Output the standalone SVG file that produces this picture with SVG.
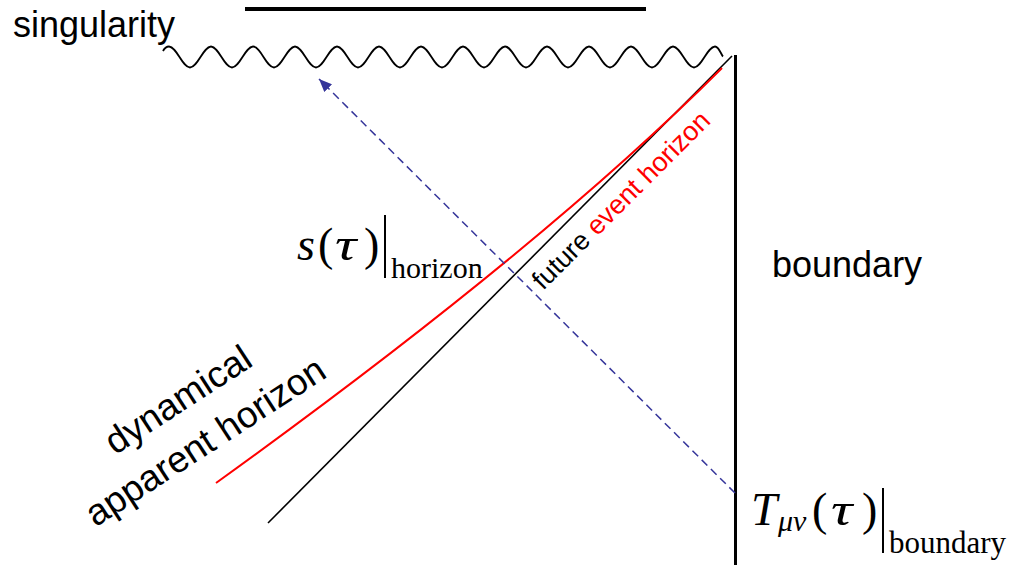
<svg xmlns="http://www.w3.org/2000/svg" width="1011" height="565" viewBox="0 0 1011 565">
<style>
.sans{font-family:"Liberation Sans",Arial,sans-serif;fill:#000}
.serif{font-family:"Liberation Serif","Times New Roman",serif;fill:#000}
.it{font-style:italic}
.red{fill:#ff0000}
</style>
<defs>
<marker id="arr" markerUnits="userSpaceOnUse" markerWidth="14" markerHeight="11" refX="13" refY="5.5" orient="auto">
<path d="M0,0 L13,5.5 L0,11 z" fill="#35359a" stroke="none"/>
</marker>
</defs>
<rect width="1011" height="565" fill="#fff"/>
<g id="connectors" fill="none">
<line x1="245" y1="9" x2="646" y2="9" stroke="#000" stroke-width="4"/>
<path d="M163,51 Q165.5,46.5 169,46.5 C176.65,46.5 182.35,67.5 190,67.5 s13.35,-21 21,-21 s13.35,21 21,21 s13.35,-21 21,-21 s13.35,21 21,21 s13.35,-21 21,-21 s13.35,21 21,21 s13.35,-21 21,-21 s13.35,21 21,21 s13.35,-21 21,-21 s13.35,21 21,21 s13.35,-21 21,-21 s13.35,21 21,21 s13.35,-21 21,-21 s13.35,21 21,21 s13.35,-21 21,-21 s13.35,21 21,21 s13.35,-21 21,-21 s13.35,21 21,21 s13.35,-21 21,-21 s13.35,21 21,21 s13.35,-21 21,-21 s13.35,21 21,21 s13.35,-21 21,-21 s13.35,21 21,21 s13.35,-21 21,-21 c4,0 6,8 8,10" stroke="#000" stroke-width="1.8"/>
<line x1="735.5" y1="55" x2="735.5" y2="565" stroke="#000" stroke-width="3"/>
<line x1="268" y1="523" x2="732" y2="56" stroke="#000" stroke-width="1.6"/>
<path d="M216,483 Q541,249 722,68" stroke="#ff0000" stroke-width="2"/>
<line x1="735" y1="493" x2="319" y2="79" stroke="#35359a" stroke-width="1.5" stroke-dasharray="8,5" marker-end="url(#arr)"/>
</g>
<g id="singularity"><text class="sans" x="13" y="37" font-size="36">singularity</text></g>
<g id="boundary"><text class="sans" x="772" y="277" font-size="36">boundary</text></g>
<g id="apparent-horizon-label" transform="translate(212,452) rotate(-33)">
<text class="sans" x="0" y="-50" font-size="37" text-anchor="middle">dynamical</text>
<text class="sans" x="0" y="0" font-size="37" text-anchor="middle">apparent horizon</text>
</g>
<g id="event-horizon-label" transform="translate(543,291) rotate(-45)">
<text class="sans" x="0" y="0" font-size="27">future <tspan class="red">event horizon</tspan></text>
</g>
<g id="s-horizon">
<text class="serif it" x="297" y="260" font-size="46">s</text>
<text class="serif" x="318" y="260" font-size="46">(</text>
<text class="serif it" transform="translate(335,260) scale(1.3,1)" x="0" y="0" font-size="46">τ</text>
<text class="serif" x="364" y="260" font-size="46">)</text>
<line x1="385" y1="215" x2="385" y2="278" stroke="#000" stroke-width="2"/>
<text class="serif" x="391" y="278" font-size="30">horizon</text>
</g>
<g id="T-boundary">
<text class="serif it" x="751" y="525" font-size="47">T</text>
<text class="serif it" x="778" y="531" font-size="30">μν</text>
<text class="serif" x="812" y="525" font-size="46">(</text>
<text class="serif it" transform="translate(831,525) scale(1.3,1)" x="0" y="0" font-size="46">τ</text>
<text class="serif" x="862" y="525" font-size="46">)</text>
<line x1="883" y1="488" x2="883" y2="553" stroke="#000" stroke-width="2"/>
<text class="serif" x="889" y="553" font-size="31">boundary</text>
</g>
</svg>
